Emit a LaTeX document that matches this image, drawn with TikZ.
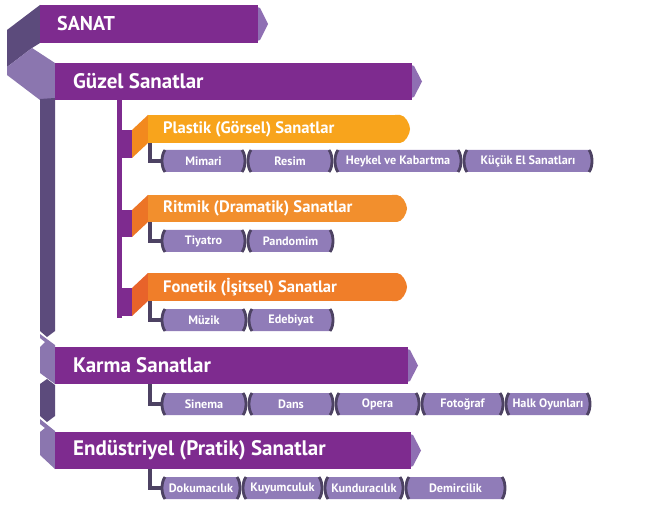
\documentclass[tikz,border=0pt]{standalone}
\usepackage{fontspec}
\setmainfont{PT Sans}
\usetikzlibrary{calc}
\definecolor{barp}{HTML}{7E2B8F}
\definecolor{tipc}{HTML}{8F6FB3}
\definecolor{darkr}{HTML}{5C4B7C}
\definecolor{lightr}{HTML}{8B76AF}
\definecolor{pillc}{HTML}{907CB8}
\definecolor{brkc}{HTML}{4D4263}
\definecolor{orA}{HTML}{F8A41C}
\definecolor{orAf}{HTML}{F2891E}
\definecolor{orB}{HTML}{F28F2D}
\definecolor{orBf}{HTML}{EC7426}
\definecolor{orC}{HTML}{F07E29}
\definecolor{orCf}{HTML}{E8632A}

\newcommand\mkbar[8]{%
  \fill[tipc] (#3-4,#4+1) -- (#3+2,#4+3) -- (#3+10,{(#4+#5)/2}) -- (#3+2,#5-3) -- (#3-4,#5-1) -- cycle;
  \node[mbar, minimum width={#3-#2}, minimum height={#5-#4}] (#1) at (#2,#4) {};
  \node[btext, font=\bfseries\fontsize{#8}{24}\selectfont] (#1-t) at (#6,{(#4+#5)/2}) {#7};
}
\newcommand\mkorbar[7]{%
  \fill[#6] (132,#3+15) -- (148,#3) -- (148,#4) -- (132,#4+15) -- cycle;
  \fill[barp] (117,#3+15) rectangle (132,#4+15);
  \fill[#5] (#2-12,#3) -- (#2-7,#3) .. controls (#2-2,#3) and (#2+3,{(#3+#4)/2-5}) .. (#2+3,{(#3+#4)/2}) .. controls (#2+3,{(#3+#4)/2+5}) and (#2-2,#4) .. (#2-7,#4) -- (#2-12,#4) -- cycle;
  \node[obar, fill=#5, minimum width={#2-148-10}, minimum height={#4-#3}] (#1) at (148,#3) {};
  \node[otext] (#1-t) at (163,{(#3+#4)/2}) {#7};
}
\newcommand\mkpill[5]{%
  \fill[pillc] (#2+3,#4-11) -- (#3-3,#4-11) .. controls (#3+1,#4-6) and (#3+1,#4+6) .. (#3-3,#4+11) -- (#2+3,#4+11) .. controls (#2-1,#4+6) and (#2-1,#4-6) .. (#2+3,#4-11) -- cycle;
  \draw[brk] (#2+3,#4-11) .. controls (#2-1,#4-6) and (#2-1,#4+6) .. (#2+3,#4+11);
  \draw[brk] (#3-3,#4-11) .. controls (#3+1,#4-6) and (#3+1,#4+6) .. (#3-3,#4+11);
  \coordinate (#1-l) at (#2,#4);
  \node[ptext] (#1) at ({(#2+#3)/2},#4) {#5};
}

\begin{document}
\begin{tikzpicture}[x=1pt,y=-1pt,
  mbar/.style={fill=barp, draw=none, rectangle, inner sep=0, anchor=north west},
  obar/.style={draw=none, rectangle, inner sep=0, anchor=north west},
  btext/.style={text=white, anchor=west, inner sep=0},
  otext/.style={text=white, font=\bfseries\fontsize{16.6}{19}\selectfont, anchor=west, inner sep=0},
  ptext/.style={text=white, font=\bfseries\fontsize{12.2}{14}\selectfont, inner sep=0},
  brk/.style={draw=brkc, line width=2.8},
  conn/.style={draw=brkc, line width=3.5}]
\useasboundingbox (0,0) rectangle (652,510);
\fill[white] (0,0) rectangle (652,510);

% left folded ribbon
\fill[darkr] (40,5) -- (7,30) -- (7,67) -- (32,48) -- (40,43) -- cycle;
\fill[lightr] (7,67) -- (32,48) -- (55,63) -- (55,100) -- (40,100) -- (7,75) -- cycle;
\fill[darkr] (40,99) -- (55,98) -- (55,331) -- (47,337) -- (40,331) -- cycle;
\fill[lightr] (40,334) -- (55,345) -- (55,384) -- (40,373) -- (40,347) -- (45,342) -- (40,338) -- cycle;
\fill[darkr] (40,384) -- (47,379) -- (55,385) -- (55,416) -- (47,422) -- (40,416) -- cycle;
\fill[lightr] (40,419) -- (55,431) -- (55,469) -- (40,455) -- (40,432) -- (45,428) -- (40,424) -- cycle;

% inner purple line
\fill[barp] (117,99) rectangle (122,318);

\mkbar{sanat}{40}{258}{5}{43}{57}{SANAT}{20}
\mkbar{guzel}{55}{412}{63}{100}{73}{Güzel Sanatlar}{21}
\mkbar{karma}{55}{408}{347}{384}{73}{Karma Sanatlar}{21}
\mkbar{endus}{55}{411}{432}{469}{73}{Endüstriyel (Pratik) Sanatlar}{21}

\mkorbar{plast}{407}{115}{143}{orA}{orAf}{Plastik (Görsel) Sanatlar}
\mkorbar{ritm}{404}{195}{222}{orB}{orBf}{Ritmik (Dramatik) Sanatlar}
\mkorbar{fonet}{404}{273}{301}{orC}{orCf}{Fonetik (İşitsel) Sanatlar}

% pills
\mkpill{mimari}{162}{245}{161}{Mimari}
\mkpill{resim}{248}{332}{161}{Resim}
\mkpill{heykel}{335}{461}{161}{Heykel ve Kabartma}
\mkpill{kucuk}{464}{592}{161}{Küçük El Sanatları}

\mkpill{tiyatro}{162}{245}{241}{Tiyatro}
\mkpill{pandomim}{248}{333}{241}{Pandomim}

\mkpill{muzik}{162}{246}{320}{Müzik}
\mkpill{edebiyat}{249}{333}{320}{Edebiyat}

\mkpill{sinema}{162}{246}{404}{Sinema}
\mkpill{dans}{249}{333}{404}{Dans}
\mkpill{opera}{336}{419}{404}{Opera}
\mkpill{foto}{422}{503}{404}{Fotoğraf}
\mkpill{halk}{506}{590}{404}{Halk Oyunları}

\mkpill{doku}{162}{240}{488}{Dokumacılık}
\mkpill{kuyum}{243}{322}{488}{Kuyumculuk}
\mkpill{kundura}{325}{403}{488}{Kunduracılık}
\mkpill{demir}{406}{505}{488}{Demircilik}

% connectors
\draw[conn] ($(plast.south west)+(2,0)$) |- (mimari-l);
\draw[conn] ($(ritm.south west)+(2,0)$) |- (tiyatro-l);
\draw[conn] ($(fonet.south west)+(2,0)$) |- (muzik-l);
\draw[conn] ($(karma.south west)+(95,0)$) |- (sinema-l);
\draw[conn] ($(endus.south west)+(95,0)$) |- (doku-l);
\end{tikzpicture}
\end{document}
